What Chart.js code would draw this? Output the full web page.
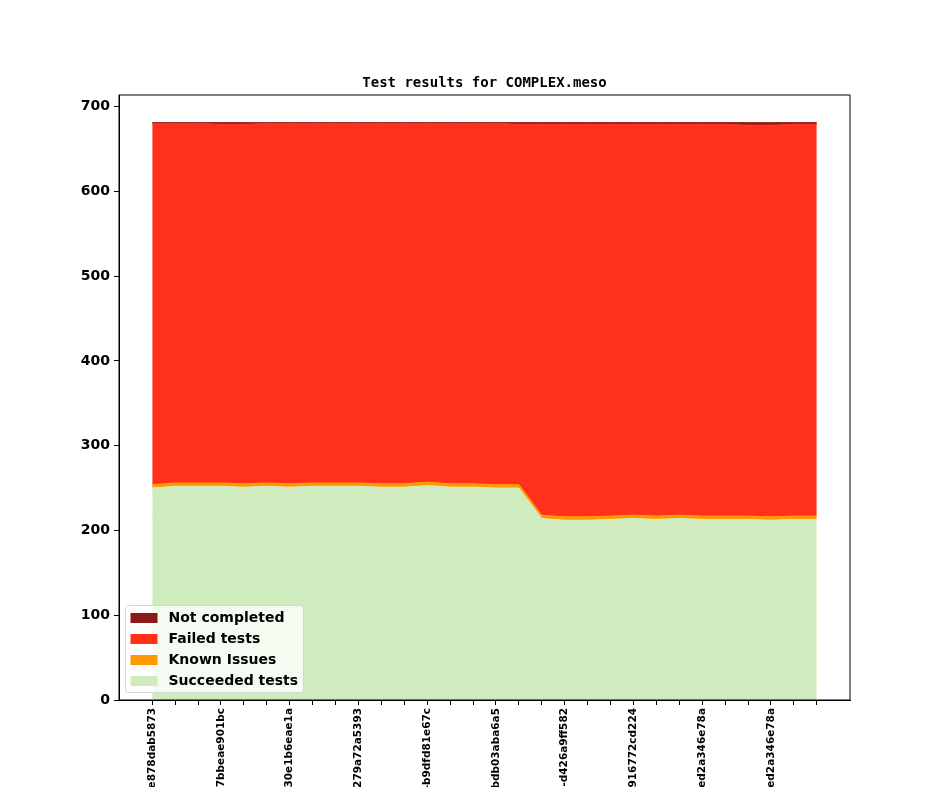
<!DOCTYPE html>
<html>
<head>
<meta charset="utf-8">
<script src="https://cdn.jsdelivr.net/npm/chart.js@4.4.1/dist/chart.umd.min.js"></script>
<style>
  html, body { margin: 0; padding: 0; background: #fff; }
</style>
</head>
<body>
<canvas id="chart" width="944" height="787"></canvas>
<script>
// Commit ids shown under every third build
const commits = ['e878dab5873', '7bbeae901bc', '30e1b6eae1a', '279a72a5393', '-b9dfd81e67c',
  'bdb03aba6a5', '-d426a9ff582', '916772cd224', 'ed2a346e78a', 'ed2a346e78a'];
const labelEvery = 3;

// Test counts per build (30 builds)
const succeeded = [250, 252, 252, 252, 251, 252, 251, 252, 252, 252, 251, 251, 253, 251, 251,
  250, 250, 214, 212, 212, 213, 214, 213, 214, 213, 213, 213, 212, 213, 213];
const knownIssues = [4, 4, 4, 4, 4, 4, 4, 4, 4, 4, 4, 4, 4, 4, 4,
  4, 4, 4, 4, 4, 4, 4, 4, 4, 4, 4, 4, 4, 4, 4];
const failed = [426, 424, 424, 423, 424, 424, 425, 424, 424, 424, 425, 425, 423, 425, 425,
  426, 425, 461, 463, 463, 462, 461, 462, 461, 462, 462, 461, 462, 462, 462];
const notCompleted = [1, 1, 1, 2, 2, 1, 1, 1, 1, 1, 1, 1, 1, 1, 1,
  1, 2, 2, 2, 2, 2, 2, 2, 2, 2, 2, 3, 3, 2, 2];

const yTicks = [0, 100, 200, 300, 400, 500, 600, 700];
const title = 'Test results for COMPLEX.meso';

const pts = arr => arr.map((v, i) => ({ x: i, y: v }));
const area = (label, data, color, fill) => ({
  label, data: pts(data), fill,
  backgroundColor: color, borderColor: color, borderWidth: 1,
  pointRadius: 0, tension: 0
});

// title, frame and legend drawn by hand (matplotlib-like placement)
const decor = {
  id: 'decor',
  afterDraw(chart) {
    const ctx = chart.ctx, a = chart.chartArea;
    ctx.save();
    ctx.strokeStyle = '#000';
    ctx.lineWidth = 1;
    ctx.strokeRect(a.left, a.top, a.right - a.left, a.bottom - a.top);

    ctx.fillStyle = '#000';
    ctx.font = 'bold 14px "DejaVu Sans Mono"';
    ctx.textAlign = 'center';
    ctx.textBaseline = 'alphabetic';
    ctx.fillText(title, (a.left + a.right) / 2, a.top - 8.5);

    // legend box
    const bx = a.left + 6.5, by = a.bottom - 94.5, bw = 178, bh = 87, r = 3;
    ctx.beginPath();
    ctx.moveTo(bx + r, by);
    ctx.arcTo(bx + bw, by, bx + bw, by + bh, r);
    ctx.arcTo(bx + bw, by + bh, bx, by + bh, r);
    ctx.arcTo(bx, by + bh, bx, by, r);
    ctx.arcTo(bx, by, bx + bw, by, r);
    ctx.closePath();
    ctx.fillStyle = 'rgba(255,255,255,0.8)';
    ctx.fill();
    ctx.strokeStyle = '#d6d6d6';
    ctx.stroke();

    ctx.font = 'bold 14px "DejaVu Sans"';
    ctx.textAlign = 'left';
    ctx.textBaseline = 'middle';
    const sets = chart.data.datasets.slice().reverse();
    sets.forEach((ds, i) => {
      const cy = by + 12.5 + i * 21;
      ctx.fillStyle = ds.backgroundColor;
      ctx.fillRect(bx + 5, cy - 5, 27, 10);
      ctx.fillStyle = '#000';
      ctx.fillText(ds.label, bx + 43, cy);
    });
    ctx.restore();
  }
};

new Chart(document.getElementById('chart'), {
  type: 'line',
  data: {
    datasets: [
      area('Succeeded tests', succeeded, '#d0ecbf', 'origin'),
      area('Known Issues', knownIssues, '#ff9900', '-1'),
      area('Failed tests', failed, '#ff311a', '-1'),
      area('Not completed', notCompleted, '#8c1a1a', '-1')
    ]
  },
  options: {
    responsive: false,
    animation: false,
    devicePixelRatio: 1,
    layout: { padding: { top: 95, right: 94, left: 0, bottom: 0 } },
    plugins: { legend: { display: false }, title: { display: false }, tooltip: { enabled: false } },
    scales: {
      x: {
        type: 'linear',
        min: -1.45,
        max: succeeded.length - 1 + 1.45,
        afterBuildTicks: s => { s.ticks = succeeded.map((_, i) => ({ value: i })); },
        afterFit: s => { s.height = 87; },
        grid: { drawOnChartArea: false, tickLength: 5, color: '#000' },
        border: { color: '#000', width: 1 },
        ticks: {
          autoSkip: false, minRotation: 90, maxRotation: 90, padding: 3, color: '#000',
          font: { family: 'DejaVu Sans', weight: 'bold', size: 10.5 },
          callback: v => (v % labelEvery === 0 ? commits[v / labelEvery] : '')
        }
      },
      y: {
        stacked: true,
        min: 0,
        max: 713.6,
        afterBuildTicks: s => { s.ticks = yTicks.map(v => ({ value: v })); },
        afterFit: s => { s.width = 119; },
        grid: { drawOnChartArea: false, tickLength: 5, color: '#000' },
        border: { color: '#000', width: 1 },
        ticks: {
          padding: 4, color: '#000',
          font: { family: 'DejaVu Sans', weight: 'bold', size: 14 }
        }
      }
    }
  },
  plugins: [decor]
});
</script>
</body>
</html>
